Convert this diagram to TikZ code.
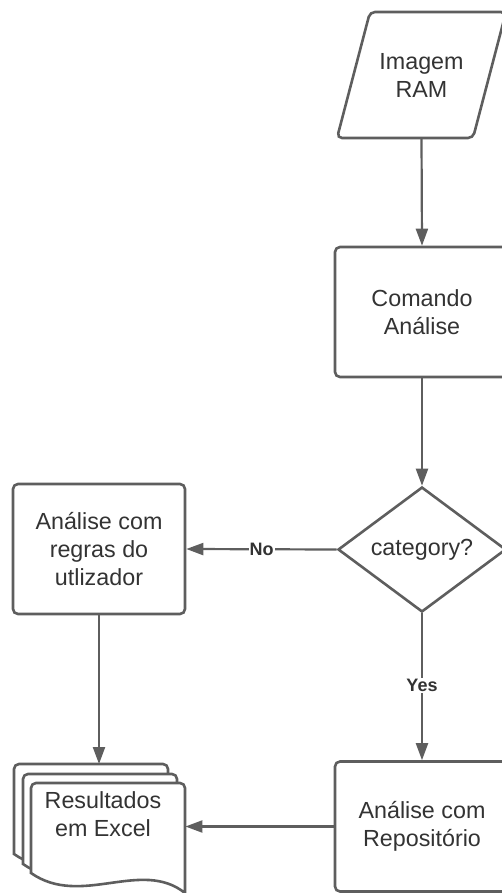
\documentclass[tikz,border=0pt]{standalone}
\usepackage{fontspec}
\setmainfont{Liberation Sans}
\usetikzlibrary{shapes.geometric,arrows.meta}
\definecolor{ln}{HTML}{5E5E5E}
\definecolor{tx}{HTML}{333333}
\newcommand\docpage[2]{%
  \draw[ln, line width=2.6pt, fill=white, rounded corners=5pt]
    (#1,#2+90) -- (#1,#2) -- (#1+154,#2) -- (#1+154,#2+60) [sharp corners] -- (#1+154,#2+110)
    .. controls (#1+110,#2+75) and (#1+50,#2+125) .. (#1,#2+90) -- cycle;}
\begin{document}
\begin{tikzpicture}[x=1pt,y=-1pt,
  fshape/.style={draw=ln, line width=2.6pt, fill=white, text=tx, align=center,
    font=\fontsize{23.3}{28}\selectfont},
  txt/.style={text=tx, align=center, font=\fontsize{23.3}{28}\selectfont, inner sep=0},
  box/.style={fshape, rectangle, rounded corners=5pt, inner sep=0},
  conn/.style={draw=ln, line width=2.2pt, -{Triangle[length=17pt,width=12pt]}},
  lbl/.style={fill=white, text=tx, font=\bfseries\fontsize{18}{20}\selectfont, inner sep=1pt},
  anchorbox/.style={inner sep=0, anchor=north west, minimum width=154, minimum height=110}
]
\useasboundingbox (0,0) rectangle (501,893);

% parallelogram
\draw[ln, line width=2.6pt, fill=white, rounded corners=5pt]
  (405,138) -- (337,138) -- (370,12) -- (506,12) -- (473,138) -- cycle;
\node[txt, minimum width=136, minimum height=126] (img) at (421.5,75) {Imagem\\RAM};

\node[box, minimum width=174, minimum height=130] (cmd) at (422,312) {Comando\\Análise};
\node[fshape, diamond, inner sep=0, minimum width=168, minimum height=125, aspect=1.344] (dec) at (422,549.5) {category?};
\node[box, minimum width=172, minimum height=130] (usr) at (99,549) {Análise com\\regras do\\utlizador};
\node[box, minimum width=174, minimum height=130] (repo) at (422,826.5) {Análise com\\Repositório};

% document stack
\docpage{14}{764}
\docpage{23}{774}
\docpage{31}{783}
\node[anchorbox] (docA) at (14,764) {};
\node[anchorbox] (docB) at (23,774) {};
\node[anchorbox] (docC) at (31,783) {};
\node[txt] (doct) at (103,814) {Resultados\\em Excel};

% connectors
\draw[conn] (img.south) -- (cmd.north);
\draw[conn] (cmd.south) -- (dec.north);
\draw[conn] (dec.west) -- node[lbl, pos=0.5] {No} (usr.east);
\draw[conn] (dec.south) -- node[lbl, pos=0.49] {Yes} (repo.north);
\draw[conn] (usr.south) -- (usr.south |- docA.north);
\draw[conn] (repo.west) -- (repo.west -| docC.east);
\end{tikzpicture}
\end{document}
